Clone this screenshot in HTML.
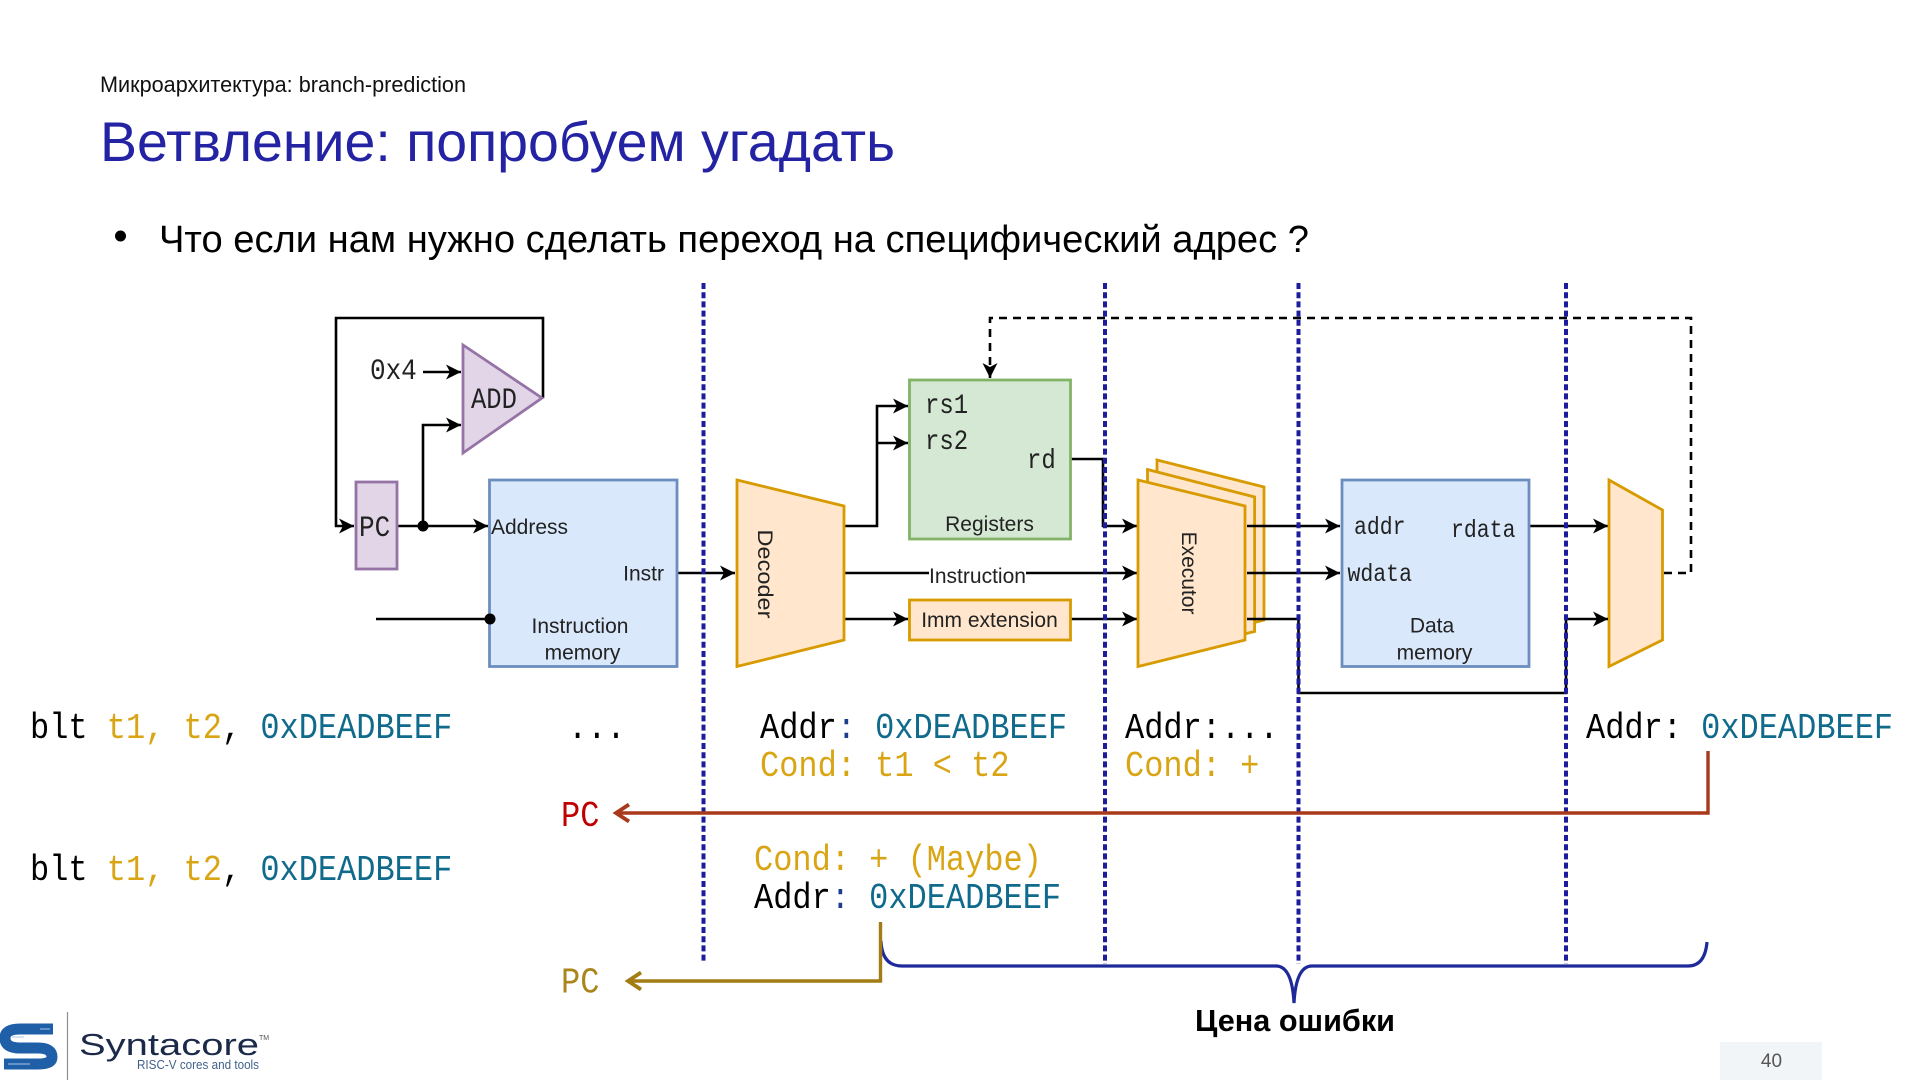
<!DOCTYPE html>
<html><head><meta charset="utf-8"><style>
html,body{margin:0;padding:0;background:#fff;width:1920px;height:1080px;overflow:hidden}
svg{display:block}
.s{font-family:"Liberation Sans",sans-serif}
.m{font-family:"Liberation Mono",monospace}
.c{font-family:"Liberation Mono",monospace;font-size:32px}
.y{fill:#d9a514}.t{fill:#0f6a8c}.k{fill:#000}
.l{font-family:"Liberation Sans",sans-serif;font-size:21px;fill:#222}
.d{font-family:"Liberation Mono",monospace;fill:#222}
</style></head><body>
<svg width="1920" height="1080" viewBox="0 0 1920 1080" xmlns="http://www.w3.org/2000/svg">
<defs>
<marker id="a" markerUnits="userSpaceOnUse" markerWidth="16" markerHeight="16" refX="15" refY="8" orient="auto"><path d="M15,8 L0,0.5 L4,8 L0,15.5 Z" fill="#000"/></marker>
</defs>
<rect width="1920" height="1080" fill="#fff"/>

<text class="s" x="100" y="92" font-size="22" textLength="366" lengthAdjust="spacingAndGlyphs" fill="#111">Микроархитектура: branch-prediction</text>
<text class="s" x="100" y="161" font-size="56" textLength="795" lengthAdjust="spacingAndGlyphs" fill="#2323a3">Ветвление: попробуем угадать</text>
<circle cx="120.5" cy="236" r="5.5" fill="#000"/>
<text class="s" x="159" y="252" font-size="38" textLength="1150" lengthAdjust="spacingAndGlyphs" fill="#000">Что если нам нужно сделать переход на специфический адрес ?</text>

<!-- wires -->
<g fill="none" stroke="#000" stroke-width="2.6">
<path d="M543 398V318H336V526H354" marker-end="url(#a)"/>
<path d="M423 372H461" marker-end="url(#a)"/>
<path d="M423 526V425H461" marker-end="url(#a)"/>
<path d="M397 526H488" marker-end="url(#a)"/>
<path d="M376 619H490"/>
<path d="M677 573H735" marker-end="url(#a)"/>
<path d="M845 526H877V406H908" marker-end="url(#a)"/>
<path d="M877 443H908" marker-end="url(#a)"/>
<path d="M845 619H908" marker-end="url(#a)"/>
<path d="M845 573H1137" marker-end="url(#a)"/>
<path d="M1071 459H1103V526H1137" marker-end="url(#a)"/>
<path d="M1071 619H1137" marker-end="url(#a)"/>
<path d="M1530 526H1608" marker-end="url(#a)"/>
<path d="M1664 573H1691V318H990V378" stroke-dasharray="8 6" marker-end="url(#a)"/>
</g>
<rect x="929" y="561" width="97" height="24" fill="#fff"/>

<!-- blocks -->
<g stroke-width="2.8">
<path d="M463 345L542 398L463 453Z" fill="#e1d5e7" stroke="#9673a6"/>
<rect x="356" y="482" width="41" height="87" fill="#e1d5e7" stroke="#9673a6"/>
<rect x="489.5" y="480" width="187.5" height="186.5" fill="#dae8fc" stroke="#6c8ebf"/>
<path d="M737 480L844 506V640L737 666.5Z" fill="#ffe6cc" stroke="#d79b00"/>
<rect x="909.5" y="380" width="161" height="159" fill="#d5e8d4" stroke="#82b366"/>
<rect x="909.5" y="600" width="161" height="40" fill="#ffe6cc" stroke="#d79b00"/>
<path d="M1157 460L1264 487V620L1157 647Z" fill="#ffe6cc" stroke="#d79b00"/>
<path d="M1147.5 469.5L1254.6 497V631.5L1147.5 657Z" fill="#ffe6cc" stroke="#d79b00"/>
<path d="M1138 480L1245 506V640L1138 666.5Z" fill="#ffe6cc" stroke="#d79b00"/>
<rect x="1342" y="480" width="187" height="186.5" fill="#dae8fc" stroke="#6c8ebf"/>
<path d="M1609 480L1662.5 510V640L1609 666.5Z" fill="#ffe6cc" stroke="#d79b00"/>
</g>
<g fill="none" stroke="#000" stroke-width="2.6">
<path d="M1247 526H1340" marker-end="url(#a)"/>
<path d="M1247 573H1340" marker-end="url(#a)"/>
<path d="M1247 619H1298.5V693H1566V619H1608" marker-end="url(#a)"/>
</g>
<circle cx="423" cy="526" r="5.5" fill="#000"/>
<circle cx="490" cy="619" r="5.5" fill="#000"/>

<!-- stage separators -->
<g stroke="#1c1c9c" stroke-width="4" stroke-dasharray="6 3.2" fill="none">
<path d="M703.5 283V962M1105 283V964M1298.5 283V964M1566 283V964"/>
</g>

<!-- block labels -->
<text class="d" font-size="26" transform="matrix(1 0 0 1.15 370 379)">0x4</text>
<text class="d" font-size="25.5" transform="matrix(1 0 0 1.15 471 408)">ADD</text>
<text class="d" font-size="26" transform="matrix(1 0 0 1.15 359 536)">PC</text>
<text class="l" x="491" y="534">Address</text>
<text class="l" x="664" y="580.5" text-anchor="end">Instr</text>
<text class="l" x="580" y="633" text-anchor="middle">Instruction</text>
<text class="l" x="582.5" y="659.5" text-anchor="middle">memory</text>
<text class="l" transform="translate(758 574) rotate(90)" x="-44.5" font-size="24" textLength="89" lengthAdjust="spacingAndGlyphs">Decoder</text>
<text class="d" font-size="24" transform="matrix(1 0 0 1.15 925 413)">rs1</text>
<text class="d" font-size="24" transform="matrix(1 0 0 1.15 925 449)">rs2</text>
<text class="d" font-size="24" transform="matrix(1 0 0 1.15 1027 468)">rd</text>
<text class="l" x="989.5" y="531" text-anchor="middle">Registers</text>
<text class="l" x="977.5" y="583" text-anchor="middle">Instruction</text>
<text class="l" x="989.5" y="627" text-anchor="middle" font-size="21.5">Imm extension</text>
<text class="l" transform="translate(1182 573) rotate(90)" text-anchor="middle" font-size="21.5">Executor</text>
<text class="d" font-size="21.5" transform="matrix(1 0 0 1.15 1354 534)">addr</text>
<text class="d" font-size="21.5" transform="matrix(1 0 0 1.15 1451 537)">rdata</text>
<text class="d" font-size="21.5" transform="matrix(1 0 0 1.15 1347.5 581)">wdata</text>
<text class="l" x="1432" y="632.5" text-anchor="middle">Data</text>
<text class="l" x="1434.5" y="659.5" text-anchor="middle">memory</text>

<!-- code -->
<text class="c" transform="matrix(1 0 0 1.13 30 738)"><tspan class="k">blt </tspan><tspan class="y">t1, t2</tspan><tspan class="k">, </tspan><tspan class="t">0xDEADBEEF</tspan></text>
<text class="c" transform="matrix(1 0 0 1.13 30 880)"><tspan class="k">blt </tspan><tspan class="y">t1, t2</tspan><tspan class="k">, </tspan><tspan class="t">0xDEADBEEF</tspan></text>
<text class="c k" transform="matrix(1 0 0 1.13 568 738)">...</text>
<text class="c" transform="matrix(1 0 0 1.13 760 738)"><tspan class="k">Addr</tspan><tspan fill="#1c3c8c">:</tspan><tspan class="t"> 0xDEADBEEF</tspan></text>
<text class="c y" transform="matrix(1 0 0 1.13 760 776)">Cond: t1 &lt; t2</text>
<text class="c k" transform="matrix(1 0 0 1.13 1125 738)">Addr:...</text>
<text class="c y" transform="matrix(1 0 0 1.13 1125 776)">Cond: +</text>
<text class="c" transform="matrix(1 0 0 1.13 1586 738)"><tspan class="k">Addr: </tspan><tspan class="t">0xDEADBEEF</tspan></text>
<text class="c y" transform="matrix(1 0 0 1.13 754 870)">Cond: + (Maybe)</text>
<text class="c" transform="matrix(1 0 0 1.13 754 908)"><tspan class="k">Addr</tspan><tspan fill="#1c3c8c">:</tspan><tspan class="t"> 0xDEADBEEF</tspan></text>
<text class="c" transform="matrix(1 0 0 1.13 561 826)" fill="#c00000">PC</text>
<text class="c" transform="matrix(1 0 0 1.13 561 992.5)" fill="#a8861a">PC</text>

<!-- brace -->
<path d="M881 941Q882 966 902 966H1276Q1292 966 1294 1003Q1296 966 1312 966H1688Q1705 966 1707 942" fill="none" stroke="#1f2a9a" stroke-width="3.2"/>

<!-- red / gold arrows -->
<g fill="none" stroke-width="3.4">
<path d="M1708 751V813H616" stroke="#a8391a"/>
<path d="M629 804.5L616 813L629 821.5" stroke="#a8391a" stroke-width="3.8"/>
<path d="M880.5 922V981H628" stroke="#a37c14"/>
<path d="M641 972.5L628 981L641 989.5" stroke="#a37c14" stroke-width="3.8"/>
</g>
<text class="s" x="1195" y="1031" font-size="31" font-weight="bold" textLength="200" lengthAdjust="spacingAndGlyphs" fill="#000">Цена ошибки</text>

<!-- page number -->
<rect x="1720" y="1042" width="102" height="38" fill="#f2f5f8"/>
<text class="s" x="1771.5" y="1067" font-size="19" text-anchor="middle" fill="#555">40</text>

<!-- logo -->
<path d="M53 1029H20Q5 1029 5 1038Q5 1048 20 1048H38Q52 1048 52 1057Q52 1064 38 1064H4" fill="none" stroke="#1f5fa8" stroke-width="11"/>
<path d="M12 1037H24M8 1064H30M40 1029H50" fill="none" stroke="#a8c4e4" stroke-width="1"/>
<path d="M67.5 1012V1080" stroke="#8a8f98" stroke-width="1.2"/>
<text class="s" x="79" y="1055" font-size="31" textLength="180" lengthAdjust="spacingAndGlyphs" fill="#1c2a4a">Syntacore</text>
<text class="s" x="259" y="1040" font-size="7" fill="#555">TM</text>
<text class="s" x="137" y="1069" font-size="13" textLength="122" lengthAdjust="spacingAndGlyphs" fill="#41618c">RISC-V cores and tools</text>
</svg>
</body></html>
